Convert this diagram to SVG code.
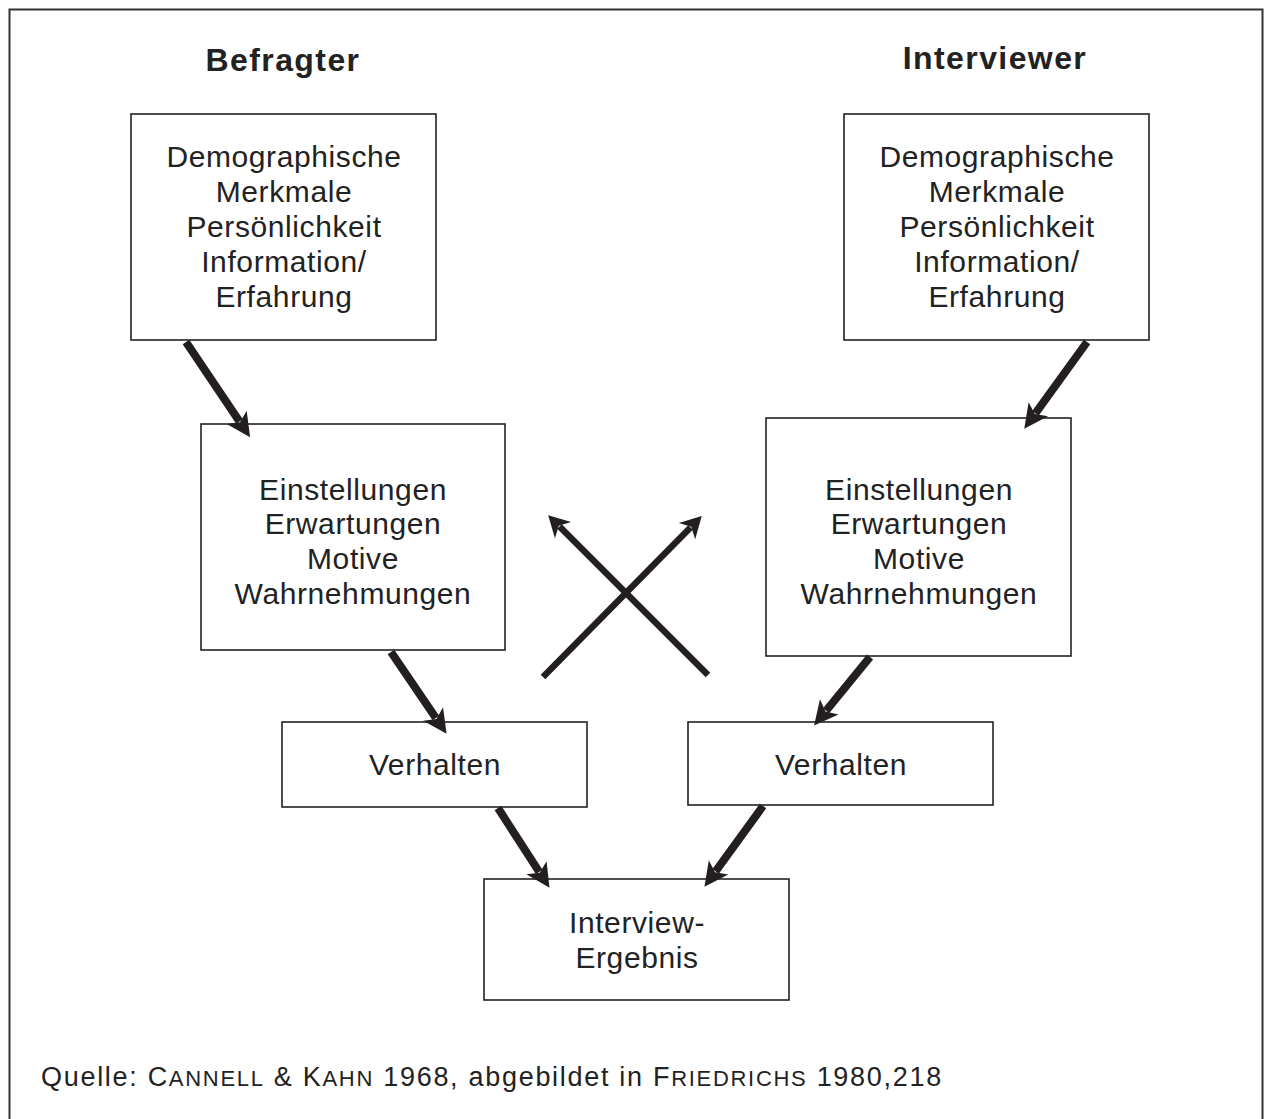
<svg xmlns="http://www.w3.org/2000/svg" width="1265" height="1119" viewBox="0 0 1265 1119">
<style>
.box{fill:#fff;stroke:#222;stroke-width:1.6}
.t{font-family:"Liberation Sans",Arial,sans-serif;font-size:30px;letter-spacing:0.6px;fill:#222;text-anchor:middle}
.h{font-family:"Liberation Sans",Arial,sans-serif;font-size:32px;font-weight:bold;letter-spacing:1.4px;fill:#222;text-anchor:middle}
.cap{font-family:"Liberation Sans",Arial,sans-serif;font-size:27px;letter-spacing:1.7px;fill:#222}
.a{stroke:#231f20;stroke-width:8;fill:none}
.x{stroke:#231f20;stroke-width:6.5;fill:none}
</style>
<defs>
<marker id="ah" markerUnits="userSpaceOnUse" orient="auto" markerWidth="40" markerHeight="40" viewBox="-10 -20 40 40" refX="0" refY="0" overflow="visible">
<path d="M-5,-12 L19,0 L-5,12 L1,0 Z" fill="#231f20"/>
</marker>
<marker id="ax" markerUnits="userSpaceOnUse" orient="auto" markerWidth="40" markerHeight="40" viewBox="-10 -20 40 40" refX="0" refY="0" overflow="visible">
<path d="M-5,-11.5 L16,0 L-5,11.5 L1,0 Z" fill="#231f20"/>
</marker>
</defs>
<rect width="1265" height="1119" fill="#fff"/>
<rect x="9.5" y="9.5" width="1253" height="1200" fill="none" stroke="#333" stroke-width="2"/>
<g id="title-befragter"><text class="h" x="283" y="71">Befragter</text></g>
<g id="title-interviewer"><text class="h" x="995" y="69">Interviewer</text></g>
<g id="node-befragter-demographie">
<rect class="box" x="131" y="114" width="305" height="226"/>
<text class="t" x="284" y="167">Demographische</text>
<text class="t" x="284" y="202">Merkmale</text>
<text class="t" x="284" y="237">Persönlichkeit</text>
<text class="t" x="284" y="272">Information/</text>
<text class="t" x="284" y="307">Erfahrung</text>
</g>
<g id="node-interviewer-demographie">
<rect class="box" x="844" y="114" width="305" height="226"/>
<text class="t" x="997" y="167">Demographische</text>
<text class="t" x="997" y="202">Merkmale</text>
<text class="t" x="997" y="237">Persönlichkeit</text>
<text class="t" x="997" y="272">Information/</text>
<text class="t" x="997" y="307">Erfahrung</text>
</g>
<g id="node-befragter-einstellungen">
<rect class="box" x="201" y="424" width="304" height="226"/>
<text class="t" x="353" y="500">Einstellungen</text>
<text class="t" x="353" y="534">Erwartungen</text>
<text class="t" x="353" y="569">Motive</text>
<text class="t" x="353" y="604">Wahrnehmungen</text>
</g>
<g id="node-interviewer-einstellungen">
<rect class="box" x="766" y="418" width="305" height="238"/>
<text class="t" x="919" y="500">Einstellungen</text>
<text class="t" x="919" y="534">Erwartungen</text>
<text class="t" x="919" y="569">Motive</text>
<text class="t" x="919" y="604">Wahrnehmungen</text>
</g>
<g id="node-befragter-verhalten">
<rect class="box" x="282" y="722" width="305" height="85"/>
<text class="t" x="435" y="775">Verhalten</text>
</g>
<g id="node-interviewer-verhalten">
<rect class="box" x="688" y="722" width="305" height="83"/>
<text class="t" x="841" y="775">Verhalten</text>
</g>
<g id="node-ergebnis">
<rect class="box" x="484" y="879" width="305" height="121"/>
<text class="t" x="637" y="933">Interview-</text>
<text class="t" x="637" y="968">Ergebnis</text>
</g>
<g id="connectors">
<line class="a" x1="186" y1="342" x2="239.5" y2="421.5" marker-end="url(#ah)"/>
<line class="a" x1="1087" y1="342" x2="1035.4" y2="413.3" marker-end="url(#ah)"/>
<line class="a" x1="391" y1="652" x2="435.9" y2="718.1" marker-end="url(#ah)"/>
<line class="a" x1="870" y1="657" x2="826.1" y2="710.8" marker-end="url(#ah)"/>
<line class="a" x1="498" y1="808" x2="539.2" y2="871.9" marker-end="url(#ah)"/>
<line class="a" x1="763" y1="806" x2="715.6" y2="871.4" marker-end="url(#ah)"/>
<line class="x" x1="708" y1="675" x2="559.5" y2="526.5" marker-end="url(#ax)"/>
<line class="x" x1="543" y1="677" x2="690.5" y2="527.5" marker-end="url(#ax)"/>
</g>
<g id="caption">
<text class="cap" x="41" y="1086">Quelle: C<tspan font-size="22">ANNELL</tspan> &amp; K<tspan font-size="22">AHN</tspan> 1968, abgebildet in F<tspan font-size="22">RIEDRICHS</tspan> 1980,218</text>
</g>
</svg>
